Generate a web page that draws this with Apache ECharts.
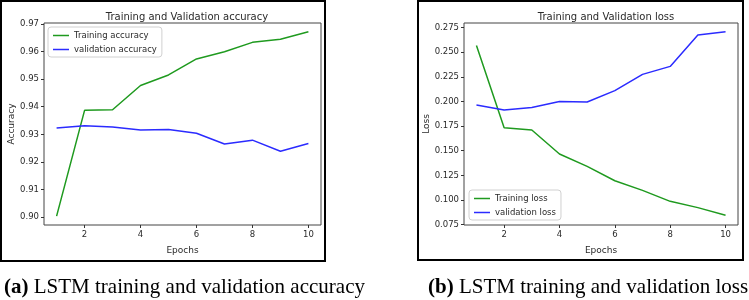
<!DOCTYPE html>
<html><head><meta charset="utf-8">
<script src="https://cdn.jsdelivr.net/npm/echarts@6/dist/echarts.min.js"></script>
<style>html,body{margin:0;padding:0;background:#fff}#c{width:749px;height:300px}</style>
</head><body><div id="c"></div>
<script>
const epochs = [1,2,3,4,5,6,7,8,9,10];
const trainAcc = [0.9004,0.9387,0.9389,0.9477,0.9515,0.9573,0.9599,0.9633,0.9644,0.9671];
const valAcc   = [0.9323,0.9331,0.9327,0.9316,0.9318,0.9304,0.9265,0.9279,0.9239,0.9267];
const trainLoss = [0.2568,0.1734,0.1710,0.1467,0.1341,0.1196,0.1098,0.0987,0.0923,0.0845];
const valLoss   = [0.1964,0.1913,0.1939,0.2000,0.1994,0.2109,0.2274,0.2355,0.2673,0.2706];
const xTicks = [2,4,6,8,10];
const accTicks = [0.90,0.91,0.92,0.93,0.94,0.95,0.96,0.97];
const lossTicks = [0.075,0.100,0.125,0.150,0.175,0.200,0.225,0.250,0.275];

const F = 'DejaVu Sans';
const TC = '#2a2a2a';
const pair = (xs, ys) => xs.map((x,i)=>[x, ys[i]]);

function xAxis(idx){
  return {type:'value', gridIndex:idx, min:0.55, max:10.45, name:'Epochs', nameLocation:'middle', nameGap:21,
    nameTextStyle:{fontFamily:F,fontSize:9,color:TC},
    axisLine:{show:false}, splitLine:{show:false},
    axisTick:{show:true, length:3, customValues:xTicks, lineStyle:{color:'#333'}},
    axisLabel:{fontFamily:F,fontSize:8.5,color:TC, margin:5, customValues:xTicks}};
}
function yAxis(idx, min, max, ticks, dec, name, gap){
  return {type:'value', gridIndex:idx, min:min, max:max, name:name, nameLocation:'middle', nameGap:gap, nameRotate:90,
    nameTextStyle:{fontFamily:F,fontSize:9,color:TC},
    axisLine:{show:false}, splitLine:{show:false},
    axisTick:{show:true, length:3, customValues:ticks, lineStyle:{color:'#333'}},
    axisLabel:{fontFamily:F,fontSize:8.5,color:TC, margin:5, customValues:ticks, formatter:v=>v.toFixed(dec)}};
}
function line(name, xi, data, color){
  return {name:name, type:'line', xAxisIndex:xi, yAxisIndex:xi, data:data, symbol:'none', smooth:false,
    lineStyle:{color:color,width:1.5}, itemStyle:{color:color}, animation:false};
}
function legend(names, left, top){
  return {data:names, orient:'vertical', left:left, top:top, itemWidth:16, itemHeight:8, itemGap:5,
    padding:[4,5,3,5], borderColor:'#d0d0d0', borderWidth:1, borderRadius:3, backgroundColor:'#fff',
    textStyle:{fontFamily:F,fontSize:8.5,color:TC}, icon:'path://M0,4L16,4L16,5.5L0,5.5Z'};
}

const chart = echarts.init(document.getElementById('c'), null, {renderer:'canvas'});
chart.setOption({
  animation:false,
  title:[
    {text:'Training and Validation accuracy', left:182, top:7, textAlign:'center', textStyle:{fontFamily:F,fontSize:10,fontWeight:'normal',color:TC}},
    {text:'Training and Validation loss', left:601, top:7, textAlign:'center', textStyle:{fontFamily:F,fontSize:10,fontWeight:'normal',color:TC}}
  ],
  grid:[
    {left:44, top:23, width:277, height:202, show:true, borderColor:'#444', borderWidth:1, backgroundColor:'transparent'},
    {left:464, top:23, width:274, height:202, show:true, borderColor:'#444', borderWidth:1, backgroundColor:'transparent'}
  ],
  xAxis:[xAxis(0), xAxis(1)],
  yAxis:[yAxis(0,0.8972,0.9703,accTicks,2,'Accuracy',27), yAxis(1,0.0747,0.2795,lossTicks,3,'Loss',31)],
  legend:[legend(['Training accuracy','validation accuracy'],48,27), legend(['Training loss','validation loss'],469,190)],
  series:[
    line('Training accuracy',0,pair(epochs,trainAcc),'#1f9a1f'),
    line('validation accuracy',0,pair(epochs,valAcc),'#2b2bff'),
    line('Training loss',1,pair(epochs,trainLoss),'#1f9a1f'),
    line('validation loss',1,pair(epochs,valLoss),'#2b2bff')
  ],
  graphic:[
    {type:'rect', shape:{x:1,y:1,width:324,height:260}, style:{fill:'none',stroke:'#000',lineWidth:2}, silent:true},
    {type:'rect', shape:{x:418,y:1,width:325,height:259}, style:{fill:'none',stroke:'#000',lineWidth:2}, silent:true},
    {type:'text', left:4, top:277, style:{text:'{b|(a)} LSTM training and validation accuracy', font:'21px "Liberation Serif"', fill:'#000',
      rich:{b:{fontFamily:'Liberation Serif',fontSize:21,fontWeight:'bold',fill:'#000'}}}},
    {type:'text', left:428, top:277, style:{text:'{b|(b)} LSTM training and validation loss', font:'21px "Liberation Serif"', fill:'#000',
      rich:{b:{fontFamily:'Liberation Serif',fontSize:21,fontWeight:'bold',fill:'#000'}}}}
  ]
});
</script></body></html>
